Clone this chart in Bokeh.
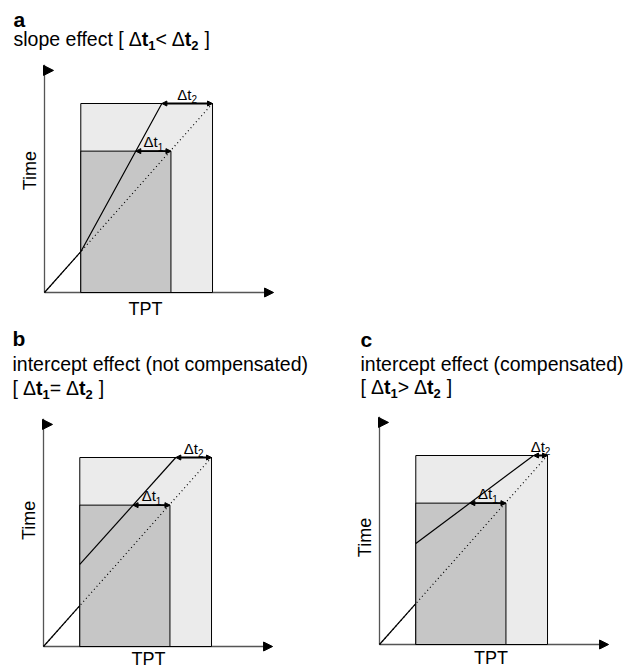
import math
from bokeh.plotting import figure
from bokeh.models import Range1d, ColumnDataSource, Arrow, NormalHead
from bokeh.layouts import column, row
from bokeh.embed import file_html
from bokeh.resources import INLINE
from bokeh.core.properties import value

# ---------------- data (diagram units) ----------------
PANELS = ["a", "b", "c"]
TITLES = ["slope effect", "intercept effect (not compensated)", "intercept effect (compensated)"]
RELATIONS = ["<", "=", ">"]
X_LABEL = "TPT"
Y_LABEL = "Time"

RECT_LEFT = 1.92      # start of both boxes (TPT)
DARK_RIGHT = 6.69     # small box right edge
LIGHT_RIGHT = 8.89    # large box right edge
DARK_TOP = 7.48       # small box time level
LIGHT_TOP = 10.0      # large box time level
X_AXIS_END = 12.12
Y_AXIS_END = 12.05
Y_FLAG = 11.75

REF_X = [0.0, 8.89]   # dotted reference relation
REF_Y = [0.0, 10.0]

A_LINES_X = [[0.0, 1.92, 6.21]]
A_LINES_Y = [[0.0, 2.16, 10.0]]
B_LINES_X = [[0.0, 1.92], [1.92, 7.0]]
B_LINES_Y = [[0.0, 2.16], [4.34, 10.0]]
C_LINES_X = [[0.0, 1.92], [1.92, 8.15]]
C_LINES_Y = [[0.0, 2.16], [5.34, 10.0]]

DT1_START = [4.83, 4.74, 4.78]
DT2_START = [6.21, 7.0, 8.15]

# ---------------- styling / layout ----------------
S = 18.9  # pixels per diagram unit
FONT = "Liberation Sans"
LIGHT_FILL = "#ebebeb"
DARK_FILL = "#c6c6c6"
AXIS_COLOR = "#555555"
TITLE_SIZE = 19.5
SUB_SIZE = 13
BASE_FIX = 0.36   # empirical baseline correction (fraction of font size)

LAYOUT = {
    "a": dict(w=320, h=320, ox=44, oy=292, tx=13, letter_y=27, title_y=46, bracket_y=None,
              time_y=6.45, tpt_x=5.35, tpt_dy=23),
    "b": dict(w=320, h=350, ox=43, oy=326, tx=12, letter_y=26, title_y=51, bracket_y=75,
              time_y=6.67, tpt_x=5.55, tpt_dy=18.5),
    "c": dict(w=321, h=350, ox=59, oy=324, tx=40, letter_y=27, title_y=51, bracket_y=74,
              time_y=5.66, tpt_x=5.9, tpt_dy=20),
}

W_REG = {'[': .278, ']': .278, 'Δ': .668, 't': .278, '<': .584, '>': .584, '=': .584, '1': .556, '2': .556}
W_BOLD = {'t': .333, '1': .556, '2': .556, 'Δ': .668}
W_TEXT = {' ': .278, 'a': .556, 'b': .556, 'c': .5, 'd': .556, 'e': .556, 'f': .278, 'i': .222, 'l': .222,
          'm': .833, 'n': .556, 'o': .556, 'p': .556, 'r': .333, 's': .5, 't': .278, '(': .333, ')': .333}


def run_width(txt, size, bold):
    tbl = W_BOLD if bold else W_REG
    return sum(tbl.get(c, W_TEXT.get(c, .556)) for c in txt) * size


def draw_runs(p, x, y, runs, x_off, y_off, align="left"):
    # runs: (text, size, bold, dy, gap_before)
    total = sum(run_width(t, s, b) + g for t, s, b, _, g in runs)
    cur = x_off - (total / 2 if align == "center" else 0)
    for t, s, b, dy, g in runs:
        cur += g
        p.text(x=[x], y=[y], text=[t], x_offset=cur, y_offset=y_off + dy - BASE_FIX * s,
               text_font=value(FONT), text_font_size=f"{s}px",
               text_font_style="bold" if b else "normal",
               text_baseline="alphabetic", text_align="left", text_color="black")
        cur += run_width(t, s, b)


def make_panel(i, lines_x, lines_y):
    key = PANELS[i]
    L = LAYOUT[key]
    x0, x1 = -L["ox"] / S, (L["w"] - L["ox"]) / S
    y0, y1 = -(L["h"] - L["oy"]) / S, L["oy"] / S
    p = figure(width=L["w"], height=L["h"], x_range=Range1d(x0, x1), y_range=Range1d(y0, y1),
               output_backend="svg", toolbar_location=None, tools="",
               x_axis_location=None, y_axis_location=None, min_border=0,
               outline_line_color=None, background_fill_color="white", border_fill_color="white")
    p.grid.visible = False

    # axes
    p.line([0, X_AXIS_END - 4 / S], [0, 0], line_color=AXIS_COLOR, line_width=1.3)
    p.line([0, 0], [0, Y_AXIS_END], line_color=AXIS_COLOR, line_width=1.3)
    p.add_layout(Arrow(x_start=X_AXIS_END - 9 / S, y_start=0, x_end=X_AXIS_END, y_end=0, line_alpha=0,
                       end=NormalHead(size=9, fill_color="black", line_color="black", line_width=1)))
    p.add_layout(Arrow(x_start=0, y_start=Y_FLAG, x_end=9 / S, y_end=Y_FLAG, line_alpha=0,
                       end=NormalHead(size=10, fill_color="black", line_color="black", line_width=1)))

    # boxes
    p.quad(left=[RECT_LEFT], right=[LIGHT_RIGHT], bottom=[0], top=[LIGHT_TOP],
           fill_color=LIGHT_FILL, line_color="black", line_width=1)
    p.quad(left=[RECT_LEFT], right=[DARK_RIGHT], bottom=[0], top=[DARK_TOP],
           fill_color=DARK_FILL, line_color="black", line_width=1)

    # reference (dotted) and actual (solid) relations
    p.line(REF_X, REF_Y, line_color="black", line_width=1.2, line_dash="1 3")
    p.multi_line(lines_x, lines_y, line_color="black", line_width=1.2)

    # delta t arrows
    src = ColumnDataSource(dict(xs=[DT1_START[i], DT2_START[i]], xe=[DARK_RIGHT, LIGHT_RIGHT],
                                y=[DARK_TOP, LIGHT_TOP]))
    p.add_layout(Arrow(x_start="xs", y_start="y", x_end="xe", y_end="y", source=src, line_width=1.8,
                       start=NormalHead(size=5, fill_color="black", line_color="black", line_width=1),
                       end=NormalHead(size=5, fill_color="black", line_color="black", line_width=1)))
    for xs, xe, yy, sub in [(DT1_START[i], DARK_RIGHT, DARK_TOP, "1"), (DT2_START[i], LIGHT_RIGHT, LIGHT_TOP, "2")]:
        draw_runs(p, (xs + xe) / 2, yy, [("Δt", 15, False, 0, 0), (sub, 10, False, 3, 0)], 0, -4, align="center")

    # axis labels
    p.text(x=[0], y=[L["time_y"]], text=[Y_LABEL], angle=math.pi / 2, x_offset=-8 - BASE_FIX * 18,
           text_font=value(FONT), text_font_size="18px", text_align="center",
           text_baseline="alphabetic", text_color="black")
    p.text(x=[L["tpt_x"]], y=[0], text=[X_LABEL], y_offset=L["tpt_dy"] - BASE_FIX * 18,
           text_font=value(FONT), text_font_size="18px", text_align="center",
           text_baseline="alphabetic", text_color="black")

    # panel letter and title
    p.text(x=[x0], y=[y1], text=[key], x_offset=L["tx"], y_offset=L["letter_y"] - BASE_FIX * 21,
           text_font=value(FONT), text_font_size="21px", text_font_style="bold",
           text_baseline="alphabetic", text_color="black")
    title = TITLES[i]
    p.text(x=[x0], y=[y1], text=[title], x_offset=L["tx"], y_offset=L["title_y"] - BASE_FIX * TITLE_SIZE,
           text_font=value(FONT), text_font_size=f"{TITLE_SIZE}px",
           text_baseline="alphabetic", text_color="black")
    if L["bracket_y"] is None:
        bx = L["tx"] + run_width(title, TITLE_SIZE, False) + 5
        by = L["title_y"]
    else:
        bx = L["tx"]
        by = L["bracket_y"]
    rel = RELATIONS[i]
    runs = [("[", TITLE_SIZE, False, 0, 0), ("Δ", TITLE_SIZE, False, 0, 5), ("t", TITLE_SIZE, True, 0, 0),
            ("1", SUB_SIZE, True, 4, 0), (rel, TITLE_SIZE, False, 0, 0),
            ("Δ", TITLE_SIZE, False, 0, 5), ("t", TITLE_SIZE, True, 0, 0), ("2", SUB_SIZE, True, 4, 0),
            ("]", TITLE_SIZE, False, 0, 6)]
    draw_runs(p, x0, y1, runs, bx, by)
    return p


pa = make_panel(0, A_LINES_X, A_LINES_Y)
pb = make_panel(1, B_LINES_X, B_LINES_Y)
pc = make_panel(2, C_LINES_X, C_LINES_Y)

layout = column(pa, row(pb, pc))
open("out.html", "w").write(file_html(layout, INLINE))
